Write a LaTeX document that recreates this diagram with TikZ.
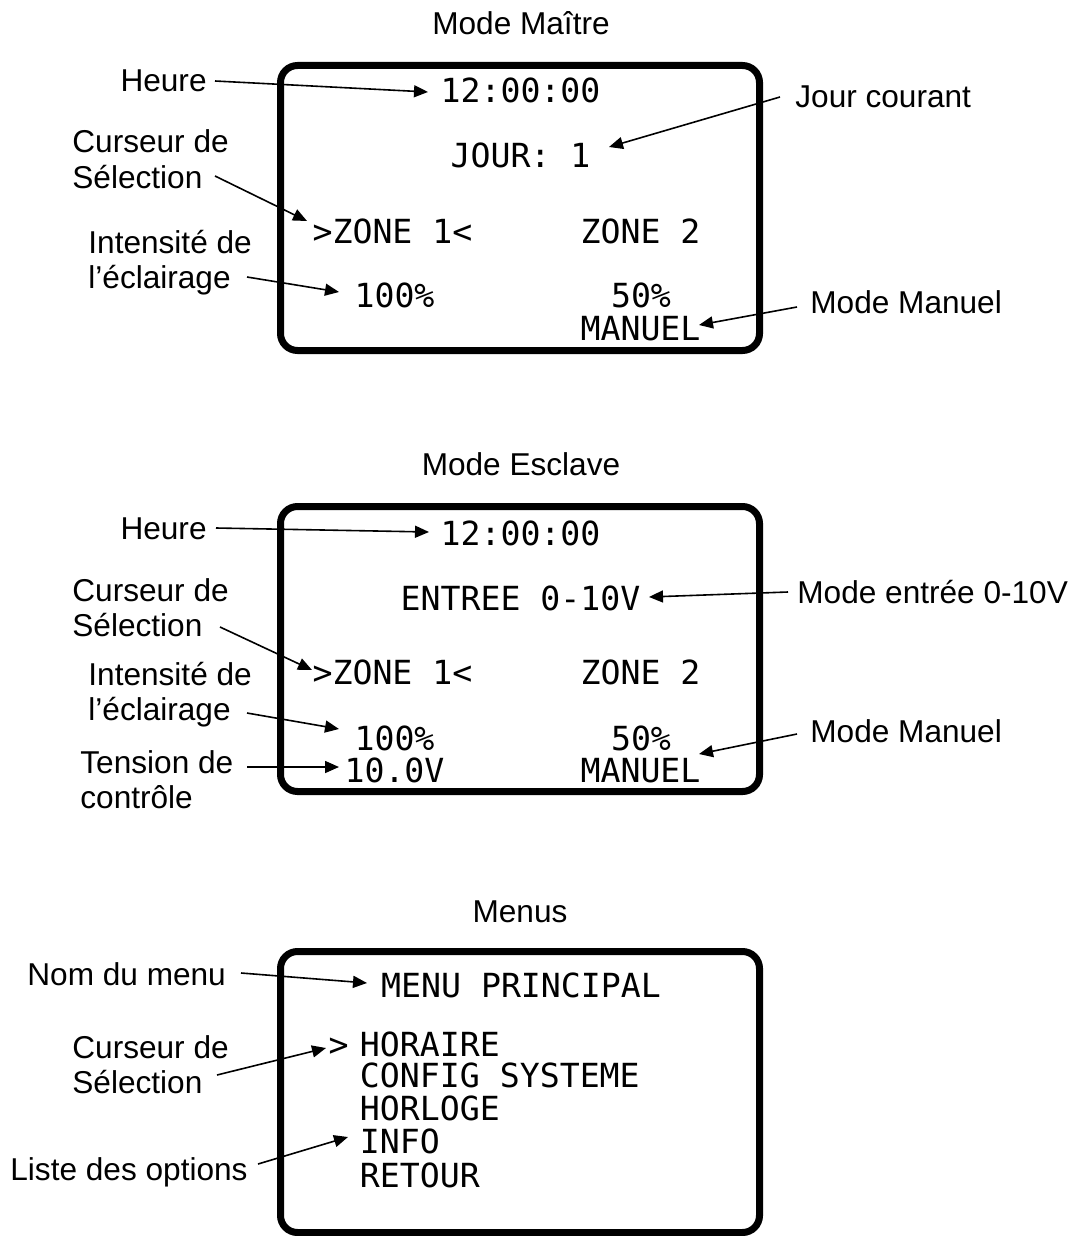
\documentclass[tikz,border=0pt]{standalone}
\usepackage{fontspec}
\setmainfont{Liberation Sans}
\newfontfamily\lcdfont{DejaVu Sans Mono}
\usetikzlibrary{arrows.meta}
\begin{document}
\begin{tikzpicture}[x=0.5pt,y=-0.5pt,
  lbl/.style={font=\fontsize{15.8}{17.5}\selectfont, inner sep=0pt, anchor=base west, align=left},
  ttl/.style={font=\fontsize{15.8}{17.5}\selectfont, inner sep=0pt, anchor=base},
  lcd/.style={font=\lcdfont\fontsize{16.6}{16.6}\selectfont, inner sep=0pt, anchor=base},
  lcdl/.style={lcd, anchor=base west},
  screen/.style={line width=3.5pt, rounded corners=8.5pt},
  arr/.style={line width=0.8pt, -{Triangle[length=7pt,width=6pt]}}]
\useasboundingbox (0,0) rectangle (1073,1236);

% ---------------- Mode Maitre ----------------
\node[ttl] (t1) at (521,35) {Mode Maître};
\draw[screen] (280.5,65.5) rectangle (759.5,350.5);
\node[lcd] (m1) at (520.5,103) {12:00:00};
\node[lcd] (m2) at (520.5,168) {JOUR: 1};
\node[lcd] (m3) at (392.5,243) {>ZONE 1<};
\node[lcd] (m4) at (640.5,243) {ZONE 2};
\node[lcd] (m5) at (394.5,307) {100\%};
\node[lcd] (m6) at (641,307) {50\%};
\node[lcd] (m7) at (640.5,340) {MANUEL};

% multi-line labels: base anchor = baseline of the last line
\node[lbl, anchor=base east] (l1) at (207,91) {Heure};
\node[lbl] (l2) at (72,188) {Curseur de\\Sélection};
\node[lbl] (l3) at (88,288) {Intensité de\\l’éclairage};
\node[lbl] (l4) at (795,108) {Jour courant};
\node[lbl] (l5) at (810,313) {Mode Manuel};

\coordinate (a1s) at (215,81);  \coordinate (a1e) at (428,92);
\coordinate (a2s) at (215,176); \coordinate (a2e) at (307,221);
\coordinate (a3s) at (247,277); \coordinate (a3e) at (339,292);
\coordinate (a4s) at (780,97);  \coordinate (a4e) at (609,147);
\coordinate (a5s) at (797,307); \coordinate (a5e) at (699,325);
\draw[arr] (a1s) -- (a1e);
\draw[arr] (a2s) -- (a2e);
\draw[arr] (a3s) -- (a3e);
\draw[arr] (a4s) -- (a4e);
\draw[arr] (a5s) -- (a5e);

% ---------------- Mode Esclave ----------------
\node[ttl] (t2) at (521,475) {Mode Esclave};
\draw[screen] (280.5,506.5) rectangle (759.5,791.5);
\node[lcd] (e1) at (520.5,545) {12:00:00};
\node[lcd] (e2) at (520.5,610) {ENTREE 0-10V};
\node[lcd] (e3) at (392.5,684) {>ZONE 1<};
\node[lcd] (e4) at (640.5,684) {ZONE 2};
\node[lcd] (e5) at (394.5,750) {100\%};
\node[lcd] (e6) at (641,750) {50\%};
\node[lcd] (e7) at (394.5,782) {10.0V};
\node[lcd] (e8) at (640.5,782) {MANUEL};

\node[lbl, anchor=base east] (k1) at (207,539) {Heure};
\node[lbl] (k2) at (72,636) {Curseur de\\Sélection};
\node[lbl] (k3) at (88,720) {Intensité de\\l’éclairage};
\node[lbl] (k4) at (80,808) {Tension de\\contrôle};
\node[lbl] (k5) at (797,603) {Mode entrée 0-10V};
\node[lbl] (k6) at (810,742) {Mode Manuel};

\coordinate (b1s) at (216,528); \coordinate (b1e) at (429,532);
\coordinate (b2s) at (220,627); \coordinate (b2e) at (312,670);
\coordinate (b3s) at (247,713); \coordinate (b3e) at (339,729);
\coordinate (b4s) at (247,767); \coordinate (b4e) at (339,767);
\coordinate (b5s) at (788,592); \coordinate (b5e) at (649,597);
\coordinate (b6s) at (797,734); \coordinate (b6e) at (699,754);
\draw[arr] (b1s) -- (b1e);
\draw[arr] (b2s) -- (b2e);
\draw[arr] (b3s) -- (b3e);
\draw[arr] (b4s) -- (b4e);
\draw[arr] (b5s) -- (b5e);
\draw[arr] (b6s) -- (b6e);

% ---------------- Menus ----------------
\node[ttl] (t3) at (520,922) {Menus};
\draw[screen] (280.5,951.5) rectangle (759.5,1232.5);
\node[lcd] (n1) at (521,997) {MENU PRINCIPAL};
\node[lcd] (n2) at (338.5,1056) {>};
\node[lcdl] (n3) at (359.5,1056) {HORAIRE};
\node[lcdl] (n4) at (359.5,1087) {CONFIG SYSTEME};
\node[lcdl] (n5) at (359.5,1120) {HORLOGE};
\node[lcdl] (n6) at (359.5,1153) {INFO};
\node[lcdl] (n7) at (359.5,1187) {RETOUR};

\node[lbl] (p1) at (27,985) {Nom du menu};
\node[lbl] (p2) at (72,1093) {Curseur de\\Sélection};
\node[lbl] (p3) at (10,1180) {Liste des options};

\coordinate (c1s) at (241,973);  \coordinate (c1e) at (367,983);
\coordinate (c2s) at (217,1075); \coordinate (c2e) at (326,1048);
\coordinate (c3s) at (258,1164); \coordinate (c3e) at (348,1137);
\draw[arr] (c1s) -- (c1e);
\draw[arr] (c2s) -- (c2e);
\draw[arr] (c3s) -- (c3e);
\end{tikzpicture}
\end{document}
